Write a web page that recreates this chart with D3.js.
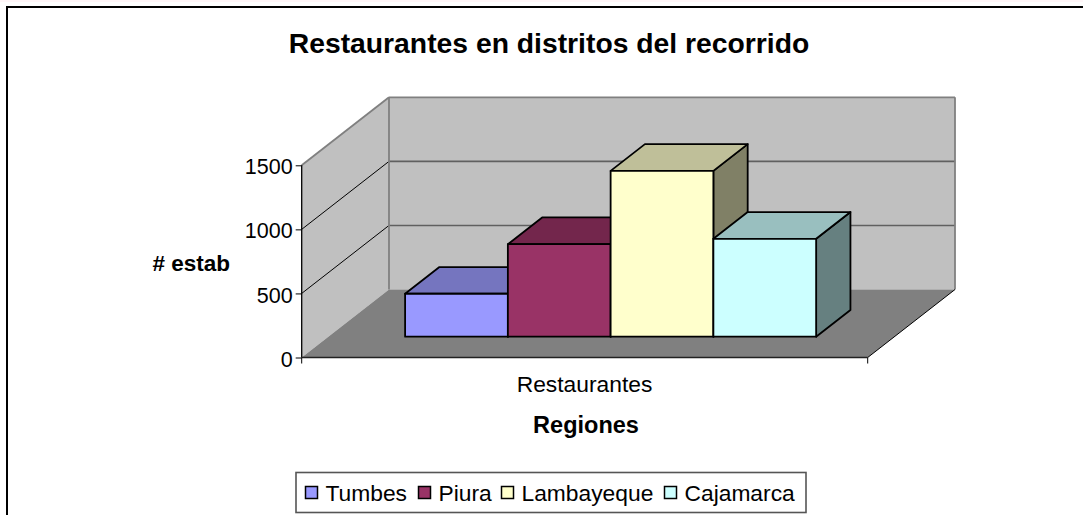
<!DOCTYPE html>
<html><head><meta charset="utf-8">
<script src="https://cdn.jsdelivr.net/npm/d3@7/dist/d3.min.js"></script>
<style>html,body{margin:0;padding:0;background:#fff;overflow:hidden}svg{display:block}text{font-family:"Liberation Sans",Arial,sans-serif;fill:#000}</style>
</head><body><svg id="c" width="1083" height="515"></svg>
<script>
const titleText = "Restaurantes en distritos del recorrido";
const categoryLabel = "Restaurantes";
const yAxisTitle = "# estab";
const xAxisTitle = "Regiones";
const seriesNames = ["Tumbes", "Piura", "Lambayeque", "Cajamarca"];
const seriesValues = [335, 722, 1294, 764];
const seriesFront = ["#9999FF", "#993366", "#FFFFCC", "#CCFFFF"];
const seriesTop = ["#7575BF", "#73264C", "#BFBF99", "#99BFBF"];
const seriesSide = ["#4D4D80", "#4D1A33", "#808066", "#668080"];
const yTicks = [0, 500, 1000, 1500];

const svg = d3.select("#c");
const y = d3.scaleLinear().domain([0, 1500]).range([357.5, 165.3]);
const xFrac = d3.scaleLinear().domain([0, 1]).range([301.7, 867.7]);
const band = d3.scaleBand().domain(seriesNames).range([0.1355, 0.8617]);
const depthX = d3.scaleLinear().domain([0, 1]).range([0, 87.3]);
const depthY = d3.scaleLinear().domain([0, 1]).range([0, 68]);
const P = (fx, v, d) => [xFrac(fx) + depthX(d), y(v) - depthY(d)];
const poly = (pts, fill, stroke, sw) => svg.append("polygon")
  .attr("points", pts.map(p => p.join(",")).join(" "))
  .attr("fill", fill).attr("stroke", stroke || "none").attr("stroke-width", sw || 0)
  .attr("stroke-linejoin", "round");
const line = (a, b, stroke, sw) => svg.append("line")
  .attr("x1", a[0]).attr("y1", a[1]).attr("x2", b[0]).attr("y2", b[1])
  .attr("stroke", stroke).attr("stroke-width", sw);

// faint band along the top of the image and outer frame
svg.append("rect").attr("x", 0).attr("y", 0).attr("width", 1083).attr("height", 2).attr("fill", "#FFF6F8");
svg.append("path").attr("d", "M7,515V7H1083").attr("fill", "none").attr("stroke", "#000").attr("stroke-width", 2);

svg.append("text").attr("x", 549).attr("y", 53).attr("text-anchor", "middle")
  .attr("font-weight", "bold").attr("font-size", 28.3).text(titleText);

// walls
const yMax = 1500;
poly([P(0,0,0), P(0,yMax,0), P(0,yMax,1), P(0,0,1)], "#C0C0C0");
poly([P(0,0,1), P(0,yMax,1), P(1,yMax,1), P(1,0,1)], "#C0C0C0");
poly([P(0,0,0), P(0,0,1), P(1,0,1), P(1,0,0)], "#808080");
yTicks.filter(t => t > 0 && t < yMax).forEach(t => {
  line(P(0,t,0), P(0,t,1), "#000", 1);
  line(P(0,t,1), P(1,t,1), "#606060", 1.6);
});
line(P(0,yMax,0), P(0,yMax,1), "#808080", 1.8);
line(P(0,yMax,1), P(1,yMax,1), "#808080", 1.8);
line(P(1,yMax,1), P(1,0,1), "#808080", 1.8);
line(P(0,yMax,1), P(0,0,1), "#808080", 1.8);
line(P(1,0,0), P(1,0,1), "#000", 1);

// bars
const d0 = 0.306, d1 = 0.699;
seriesNames.forEach((n, i) => {
  const a = band(n), b = a + band.bandwidth(), v = seriesValues[i];
  const base = 0;
  poly([P(b,base,d0), P(b,v,d0), P(b,v,d1), P(b,base,d1)], seriesSide[i], "#000", 1.8);
  poly([P(a,v,d0), P(b,v,d0), P(b,v,d1), P(a,v,d1)], seriesTop[i], "#000", 1.8);
  poly([P(a,base,d0), P(b,base,d0), P(b,v,d0), P(a,v,d0)], seriesFront[i], "#000", 1.8);
});

// axes
line(P(0,0,0), P(0,yMax,0), "#000", 1.3);
line(P(0,0,0), P(1,0,0), "#222", 1.6);
const yAxis = d3.axisLeft(y).tickValues(yTicks).tickSize(6).tickPadding(3).tickFormat(d3.format("d"));
const gy = svg.append("g").attr("transform", `translate(${xFrac(0)},0)`).call(yAxis);
gy.select(".domain").remove();
gy.selectAll("line").attr("stroke", "#000");
gy.selectAll("text").attr("font-size", 21.5).attr("dy", "0.4em").attr("font-family", '"Liberation Sans",Arial,sans-serif');
[0, 1].forEach(f => line([xFrac(f), y(0)], [xFrac(f), y(0) + 6], "#000", 1));

svg.append("text").attr("x", 584.5).attr("y", 392).attr("text-anchor", "middle").attr("font-size", 22.8).text(categoryLabel);
svg.append("text").attr("x", 586).attr("y", 433).attr("text-anchor", "middle").attr("font-weight", "bold").attr("font-size", 23.5).text(xAxisTitle);
svg.append("text").attr("x", 191.3).attr("y", 271).attr("text-anchor", "middle").attr("font-weight", "bold").attr("font-size", 22.5).text(yAxisTitle);

// legend
svg.append("rect").attr("x", 296).attr("y", 472.5).attr("width", 510).attr("height", 40).attr("fill", "#fff").attr("stroke", "#555").attr("stroke-width", 1.6);
const legendX = [305.5, 418.5, 501.5, 664.5];
seriesNames.forEach((n, i) => {
  svg.append("rect").attr("x", legendX[i]).attr("y", 486.5).attr("width", 12).attr("height", 12)
    .attr("fill", seriesFront[i]).attr("stroke", "#000").attr("stroke-width", 1.5);
  svg.append("text").attr("x", legendX[i] + 20).attr("y", 500.7).attr("font-size", 22.8).text(n);
});
</script></body></html>
